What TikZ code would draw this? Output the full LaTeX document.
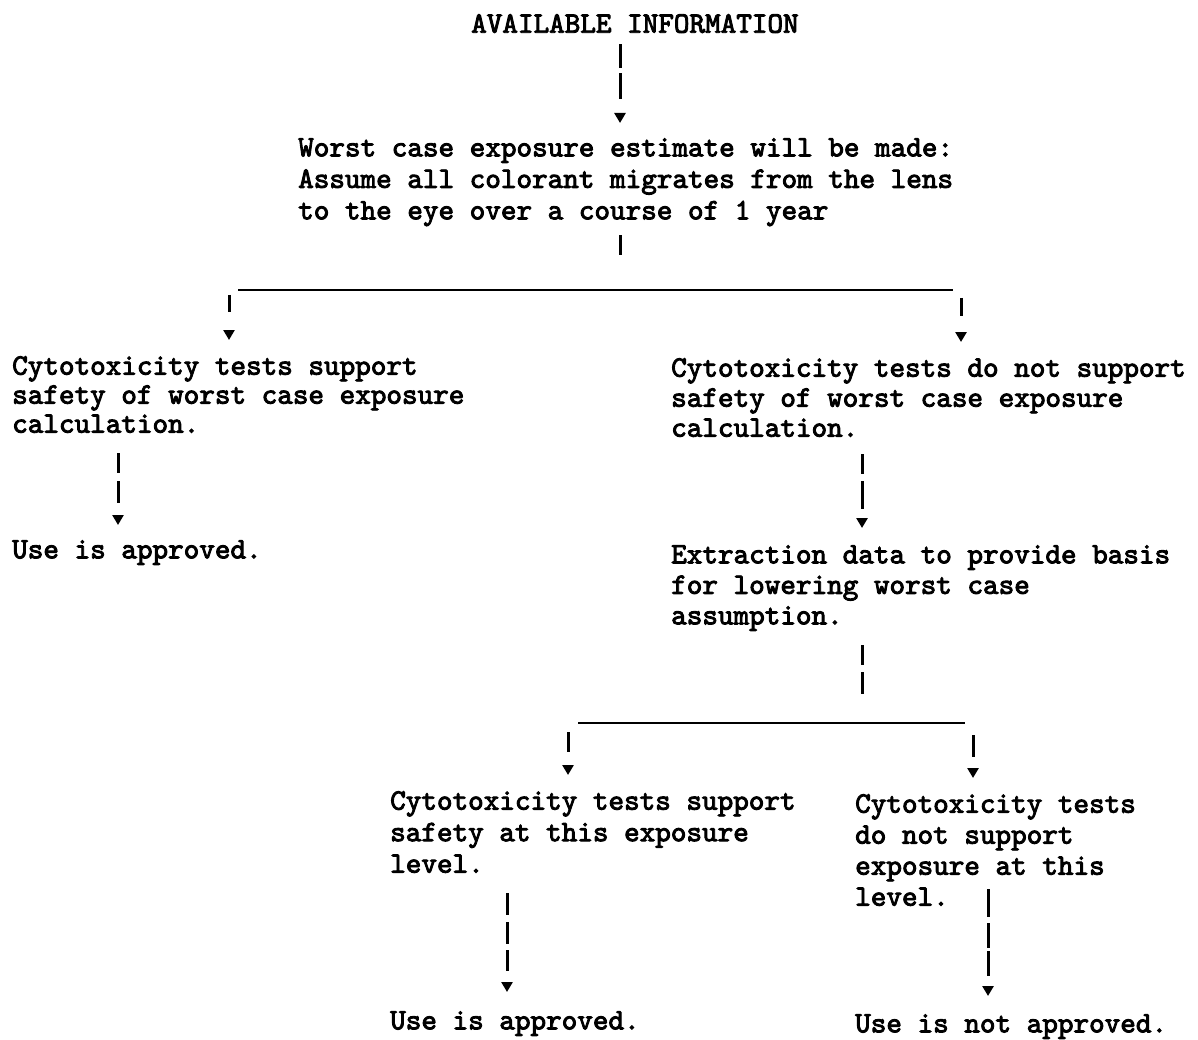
\documentclass[tikz,border=0pt]{standalone}
\usepackage{fontspec}
\setmonofont{lmmono10-regular.otf}[FakeBold=3]
\usetikzlibrary{arrows.meta}

\tikzset{
  txt/.style={anchor=north west, inner sep=0pt, align=left,
    font=\ttfamily\fontsize{29.7}{30}\selectfont},
  flow/.style={line width=3pt, -{Triangle[width=11pt,length=10pt]}},
  stub/.style={line width=3pt},
  bar/.style={line width=2.4pt},
}

\begin{document}
\begin{tikzpicture}[x=1pt,y=-1pt]
  \useasboundingbox (0,0) rectangle (1198,1040);

  \node[txt] (avail_info) at (471,14) {AVAILABLE INFORMATION};
  \node[txt, font=\ttfamily\fontsize{29.7}{31.5}\selectfont] (worst_case) at (298,138)
    {Worst case exposure estimate will be made:\\
     Assume all colorant migrates from the lens\\
     to the eye over a course of 1 year};

  \node[txt, font=\ttfamily\fontsize{29.7}{29}\selectfont] (safe_1) at (12,356)
    {Cytotoxicity tests support\\safety of worst case exposure\\calculation.};
  \node[txt] (unsafe_1) at (671,358)
    {Cytotoxicity tests do not support\\safety of worst case exposure\\calculation.};
  \node[txt] (use_ok_1) at (12,540) {Use is approved.};
  \node[txt, font=\ttfamily\fontsize{29.7}{30.5}\selectfont] (extract) at (671,545)
    {Extraction data to provide basis\\for lowering worst case\\assumption.};

  \node[txt, font=\ttfamily\fontsize{29.7}{31.5}\selectfont] (safe_2) at (390,791)
    {Cytotoxicity tests support\\safety at this exposure\\level.};
  \node[txt, font=\ttfamily\fontsize{29.7}{31}\selectfont] (unsafe_2) at (855,794)
    {Cytotoxicity tests\\do not support\\exposure at this\\level.};
  \node[txt] (use_ok_2) at (390,1011) {Use is approved.};
  \node[txt] (use_no_2) at (855,1014) {Use is not approved.};

  \coordinate (fork_1l) at (229,290);
  \coordinate (fork_1r) at (961,290);
  \coordinate (fork_1) at (620,290);
  \coordinate (fork_2l) at (568,723);
  \coordinate (fork_2r) at (973,723);
  \coordinate (fork_2) at (862,723);

  \draw[flow, dash pattern=on 24pt off 5pt on 26pt off 100pt, shorten <=11, shorten >=15]
    ([xshift=322]worst_case.north west |- avail_info.south) -- ([xshift=322]worst_case.north west);
  \draw[stub, dash pattern=on 20pt off 100pt, shorten <=9]
    ([xshift=322]worst_case.south west) -- (fork_1);
  \draw[bar, shorten <=9, shorten >=8] (fork_1l) -- (fork_1r);
  \draw[flow, dash pattern=on 17pt off 100pt, shorten <=5, shorten >=16]
    (fork_1l) -- ([xshift=217]safe_1.north west);
  \draw[flow, dash pattern=on 18pt off 100pt, shorten <=8, shorten >=16]
    (fork_1r) -- ([xshift=290]unsafe_1.north west);

  \draw[flow, dash pattern=on 20pt off 8pt on 22pt off 100pt, shorten <=20, shorten >=15]
    ([xshift=106]safe_1.south west) -- ([xshift=106]use_ok_1.north west);
  \draw[flow, dash pattern=on 20pt off 7pt on 28pt off 100pt, shorten <=17, shorten >=17]
    ([xshift=191]unsafe_1.south west) -- ([xshift=191]extract.north west);

  \draw[stub, dash pattern=on 20pt off 7pt on 22pt off 100pt, shorten <=14]
    ([xshift=191]extract.south west) -- (fork_2);
  \draw[bar, shorten <=10, shorten >=8] (fork_2l) -- (fork_2r);
  \draw[flow, dash pattern=on 20pt off 100pt, shorten <=9, shorten >=16]
    (fork_2l) -- ([xshift=178]safe_2.north west);
  \draw[flow, dash pattern=on 22pt off 100pt, shorten <=12, shorten >=16]
    (fork_2r) -- ([xshift=118]unsafe_2.north west);

  \draw[flow, dash pattern=on 22pt off 7pt on 22pt off 6pt on 21pt off 100pt, shorten <=20, shorten >=19]
    ([xshift=117]safe_2.south west) -- ([xshift=117]use_ok_2.north west);
  \draw[flow, dash pattern=on 28pt off 6pt on 25pt off 3pt on 25pt off 100pt, shorten <=-17, shorten >=18]
    ([xshift=133]unsafe_2.south west) -- ([xshift=133]use_no_2.north west);
\end{tikzpicture}
\end{document}
